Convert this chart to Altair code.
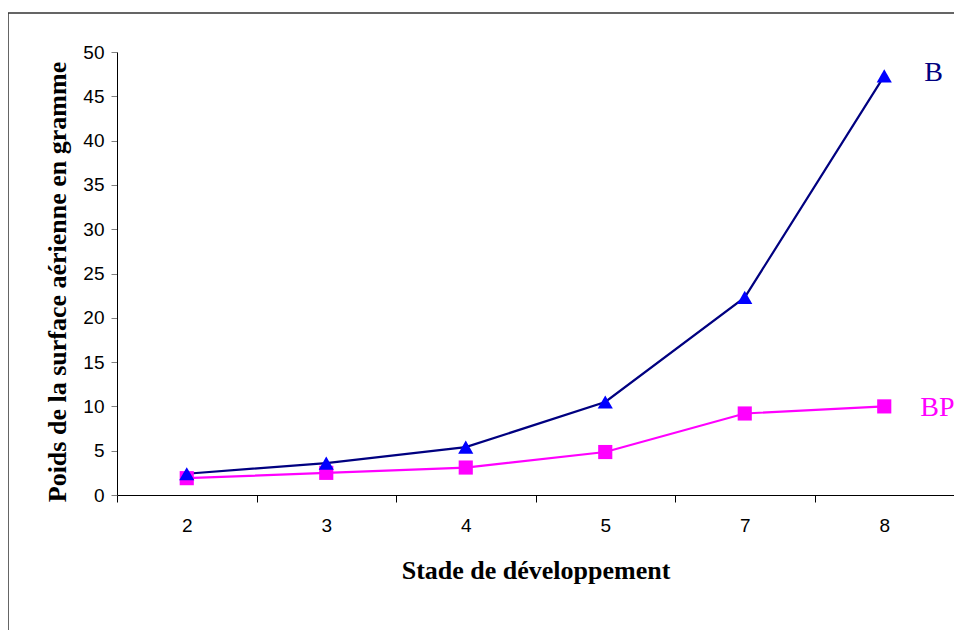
import altair as alt
import pandas as pd

stades = ["2", "3", "4", "5", "7", "8"]
poids_b = [2.4, 3.6, 5.4, 10.5, 22.3, 47.3]
poids_bp = [1.9, 2.5, 3.1, 4.85, 9.2, 10.0]
series = ["B", "BP"]
y_ticks = [0, 5, 10, 15, 20, 25, 30, 35, 40, 45, 50]

df = pd.DataFrame({
    "stade": stades * 2,
    "poids": poids_b + poids_bp,
    "serie": [series[0]] * len(stades) + [series[1]] * len(stades),
})
last = df[df["stade"] == stades[-1]]

W, H = 837, 443

x_enc = alt.X(
    "stade:O",
    sort=stades,
    scale=alt.Scale(paddingInner=0, paddingOuter=0),
    axis=alt.Axis(
        title="Stade de développement",
        tickBand="extent",
        labelAngle=0,
        labelFont="Liberation Sans",
        labelFontSize=19,
        labelColor="black",
        labelPadding=14,
        tickSize=7,
        tickColor="black",
        domainColor="black",
        titleFont="Liberation Serif",
        titleFontSize=26,
        titleFontWeight="bold",
        titleColor="black",
        titleX=W / 2,
        titleY=75,
        titleAlign="center",
        titleBaseline="middle",
        grid=False,
    ),
)
y_enc = alt.Y(
    "poids:Q",
    scale=alt.Scale(domain=[0, 50], nice=False),
    axis=alt.Axis(
        title="Poids de la surface aérienne en gramme",
        values=y_ticks,
        labelFont="Liberation Sans",
        labelFontSize=19,
        labelColor="black",
        labelPadding=7,
        tickSize=6,
        tickColor="#808080",
        domainColor="black",
        titleFont="Liberation Serif",
        titleFontSize=26,
        titleFontWeight="bold",
        titleColor="black",
        titleAngle=270,
        titleX=-60,
        titleY=H / 2 + 8,
        titleAlign="center",
        titleBaseline="middle",
        grid=False,
    ),
)

base = alt.Chart(df).encode(x=x_enc, y=y_enc)

line_b = base.transform_filter(alt.datum.serie == "B").mark_line(color="#000080", strokeWidth=2.2)
pts_b = base.transform_filter(alt.datum.serie == "B").mark_point(
    shape="triangle-up", filled=True, color="#0000FF", size=230, opacity=1)
line_bp = base.transform_filter(alt.datum.serie == "BP").mark_line(color="#FF00FF", strokeWidth=2.2)
pts_bp = base.transform_filter(alt.datum.serie == "BP").mark_point(
    shape="square", filled=True, color="#FF00FF", size=200, opacity=1)

lab_base = alt.Chart(last).encode(x=alt.X("stade:O", sort=stades), y="poids:Q", text="serie:N")
lab_b = lab_base.transform_filter(alt.datum.serie == "B").mark_text(
    align="left", baseline="middle", dx=40, dy=-3, font="Liberation Serif", fontSize=28, color="#000080")
lab_bp = lab_base.transform_filter(alt.datum.serie == "BP").mark_text(
    align="left", baseline="middle", dx=36, dy=2, font="Liberation Serif", fontSize=28, color="#FF00FF")

frame = alt.Chart(alt.Data(values=[{}])).mark_rect(
    fill=None, stroke="#333333", strokeWidth=1.5
).encode(
    x=alt.value(-109), y=alt.value(-39), x2=alt.value(W + 100), y2=alt.value(H + 200)
)

chart = alt.layer(frame, line_bp, line_b, pts_bp, pts_b, lab_b, lab_bp).properties(
    width=W,
    height=H,
    background="white",
    autosize=alt.AutoSizeParams(type="none"),
    padding={"left": 109, "top": 44, "right": 0, "bottom": 135},
).configure_view(stroke=None).configure_axis(grid=False)

chart.save("out.html", embed_options={"renderer": "svg", "actions": False})
